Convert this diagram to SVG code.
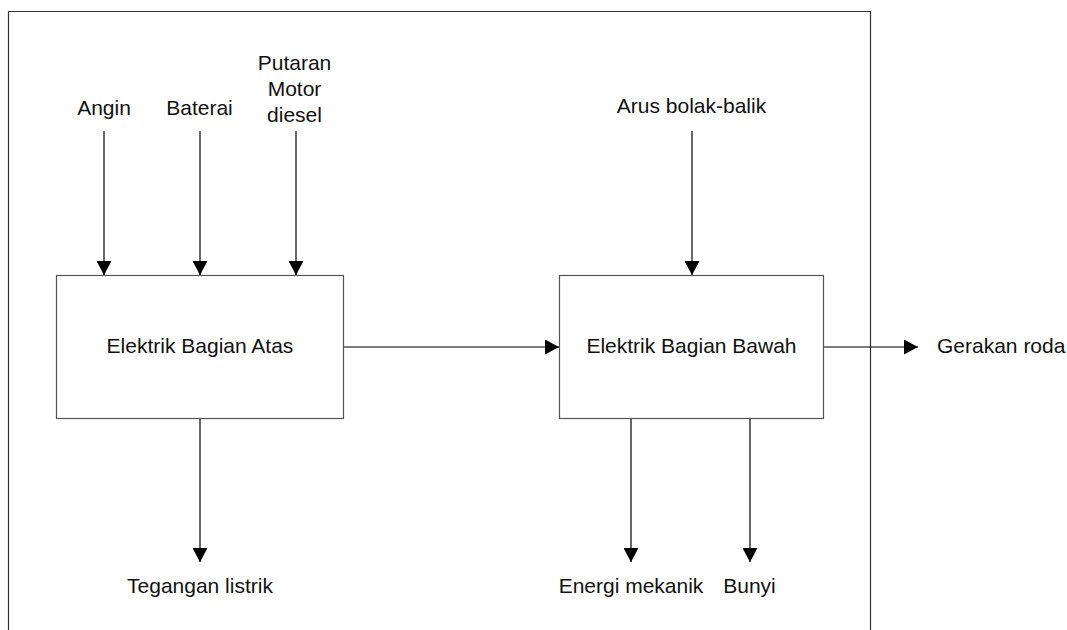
<svg xmlns="http://www.w3.org/2000/svg" width="1067" height="630" viewBox="0 0 1067 630">
  <defs>
    <style>
      .frame { fill: none; stroke: #333; stroke-width: 1.2; }
      .box { fill: #fff; stroke: #555; stroke-width: 1.2; }
      .conn { fill: none; stroke: #000; stroke-width: 1.2; }
      .lbl { font-family: "Liberation Sans", Arial, sans-serif; font-size: 21px; fill: #111; text-anchor: middle; }
      .lbl-start { font-family: "Liberation Sans", Arial, sans-serif; font-size: 21px; fill: #111; text-anchor: start; }
    </style>
    <marker id="arrow" markerUnits="userSpaceOnUse" markerWidth="15" markerHeight="15" refX="14" refY="7.5" orient="auto">
      <path d="M0,0 L14,7.5 L0,15 Z" fill="#000"/>
    </marker>
  </defs>
  <rect width="1067" height="630" fill="#fff"/>
  <path class="frame" d="M8.5,640 V11.5 H870.5 V640"/>

  <g id="connectors">
    <line class="conn" x1="104" y1="131" x2="104" y2="275" marker-end="url(#arrow)"/>
    <line class="conn" x1="200" y1="131" x2="200" y2="275" marker-end="url(#arrow)"/>
    <line class="conn" x1="296" y1="131" x2="296" y2="275" marker-end="url(#arrow)"/>
    <line class="conn" x1="692" y1="131" x2="692" y2="275" marker-end="url(#arrow)"/>
    <line class="conn" x1="344" y1="347" x2="559" y2="347" marker-end="url(#arrow)"/>
    <line class="conn" x1="823" y1="347" x2="918" y2="347" marker-end="url(#arrow)"/>
    <line class="conn" x1="200" y1="419" x2="200" y2="562" marker-end="url(#arrow)"/>
    <line class="conn" x1="631" y1="419" x2="631" y2="562" marker-end="url(#arrow)"/>
    <line class="conn" x1="750" y1="419" x2="750" y2="562" marker-end="url(#arrow)"/>
  </g>

  <g id="node-atas">
    <rect class="box" x="56.5" y="275.5" width="287" height="143"/>
    <text class="lbl" x="200" y="353">Elektrik Bagian Atas</text>
  </g>
  <g id="node-bawah">
    <rect class="box" x="559.5" y="275.5" width="264" height="143"/>
    <text class="lbl" x="691.5" y="353">Elektrik Bagian Bawah</text>
  </g>

  <g id="label-angin"><text class="lbl" x="104" y="115">Angin</text></g>
  <g id="label-baterai"><text class="lbl" x="199.5" y="115">Baterai</text></g>
  <g id="label-putaran">
    <text class="lbl" x="294.5" y="70">Putaran</text>
    <text class="lbl" x="294.5" y="96">Motor</text>
    <text class="lbl" x="294.5" y="122">diesel</text>
  </g>
  <g id="label-arus"><text class="lbl" x="691.5" y="113">Arus bolak-balik</text></g>
  <g id="label-gerakan"><text class="lbl-start" x="937" y="353">Gerakan roda</text></g>
  <g id="label-tegangan"><text class="lbl" x="200" y="593">Tegangan listrik</text></g>
  <g id="label-energi"><text class="lbl" x="631" y="593">Energi mekanik</text></g>
  <g id="label-bunyi"><text class="lbl" x="749.5" y="593">Bunyi</text></g>
</svg>
